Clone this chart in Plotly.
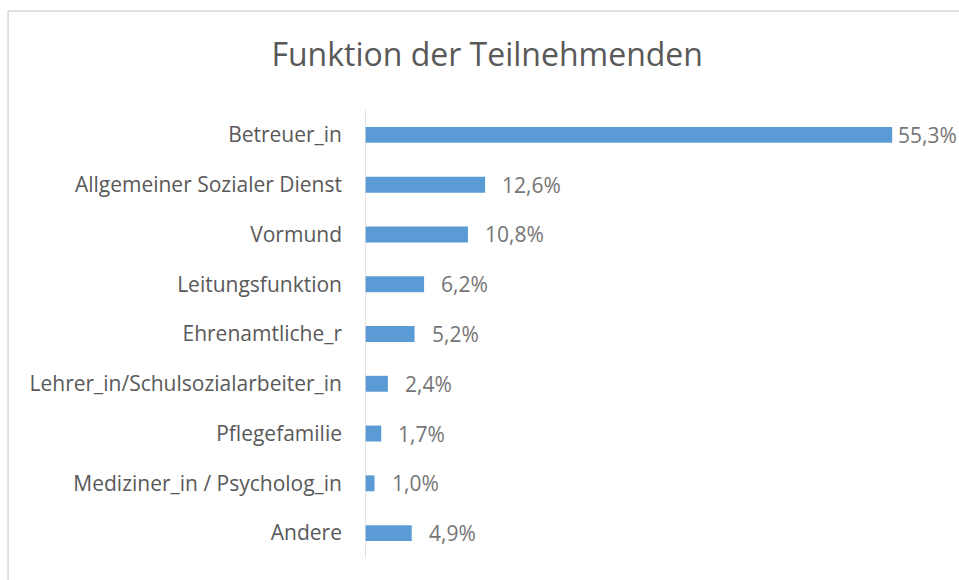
import plotly.graph_objects as go

categories = [
    "Betreuer_in",
    "Allgemeiner Sozialer Dienst",
    "Vormund",
    "Leitungsfunktion",
    "Ehrenamtliche_r",
    "Lehrer_in/Schulsozialarbeiter_in",
    "Pflegefamilie",
    "Mediziner_in / Psycholog_in",
    "Andere",
]
values = [55.3, 12.6, 10.8, 6.2, 5.2, 2.4, 1.7, 1.0, 4.9]
value_labels = ["55,3%", "12,6%", "10,8%", "6,2%", "5,2%", "2,4%", "1,7%", "1,0%", "4,9%"]
title_text = "Funktion der Teilnehmenden"

FONT = "Open Sans"
GREY = "#595959"
LABEL_GREY = "#757575"

fig = go.Figure()
fig.add_trace(go.Bar(
    x=values,
    y=categories,
    orientation="h",
    marker=dict(color="#5B9BD5", line=dict(width=0)),
    width=0.32,
    hoverinfo="skip",
))

vmax = max(values)
for cat, v, lab in zip(categories, values, value_labels):
    fig.add_annotation(
        x=v, y=cat, xref="x", yref="y",
        text=lab, showarrow=False,
        xanchor="left", yanchor="middle",
        xshift=4 if v == vmax else 15,
        font=dict(family=FONT, size=21, color=LABEL_GREY),
    )

# chart border
fig.add_shape(type="rect", xref="paper", yref="paper",
              x0=-0.624, x1=2.0, y0=-1.0, y1=1.221,
              line=dict(color="#D9D9D9", width=1.5), fillcolor="rgba(0,0,0,0)", layer="below")

fig.update_layout(
    width=959, height=580,
    margin=dict(l=365, r=22, t=110, b=22),
    paper_bgcolor="white", plot_bgcolor="white",
    showlegend=False,
    title=dict(text=title_text, x=0.508, xanchor="center", y=0.905, yanchor="middle",
               xref="container", yref="container",
               font=dict(family=FONT, size=32, color=GREY)),
    xaxis=dict(range=[0, 60], visible=False, fixedrange=True),
    yaxis=dict(
        autorange="reversed",
        showgrid=False, zeroline=False,
        showline=False, fixedrange=True,
        ticks="", ticklabelstandoff=22,
        tickfont=dict(family=FONT, size=21, color=GREY),
    ),
)
# vertical axis line
fig.add_shape(type="line", xref="x", yref="paper", x0=0, x1=0, y0=0, y1=1,
              line=dict(color="#D9D9D9", width=1.5))

fig.write_html(
    "out.html",
    config={"displayModeBar": False},
    post_script="document.body.style.margin='0';document.body.style.overflow='hidden';",
)
